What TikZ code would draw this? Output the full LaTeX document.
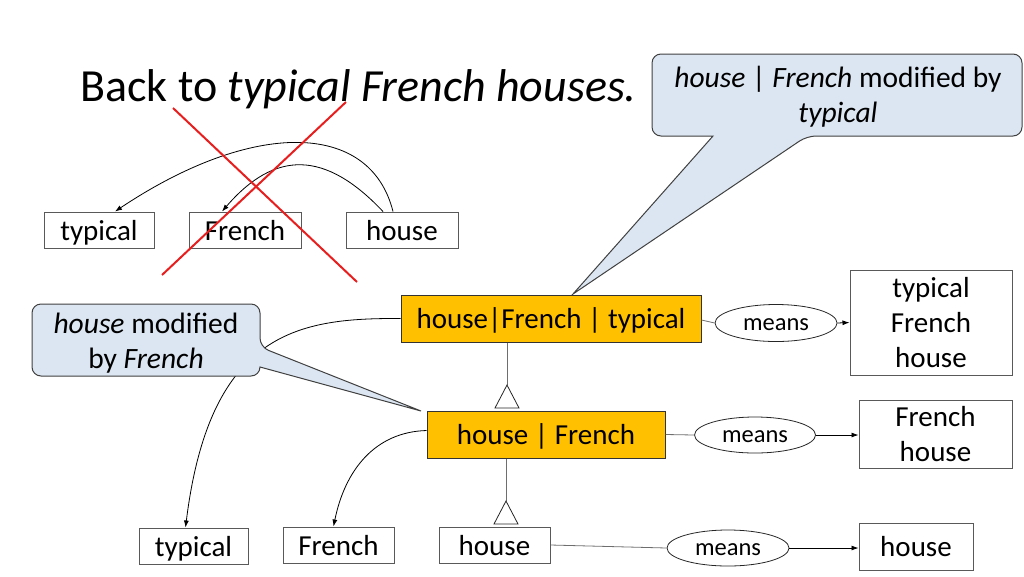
\documentclass[tikz,border=0pt]{standalone}
\usepackage{fontspec}
\setmainfont{Carlito}
\usetikzlibrary{shapes.geometric,arrows.meta,backgrounds}
\definecolor{gold}{RGB}{255,192,0}
\definecolor{boxgray}{RGB}{89,89,89}
\definecolor{linegray}{RGB}{110,110,110}
\definecolor{calloutblue}{RGB}{220,230,242}
\definecolor{calloutedge}{RGB}{64,64,64}
\definecolor{xred}{RGB}{232,30,30}
\tikzset{
  wbox/.style={draw=boxgray, line width=1pt, rectangle, minimum height=36pt, inner sep=0pt,
    font=\fontsize{29}{35}\selectfont, text height=24pt, text depth=4pt},
  ybox/.style={wbox, fill=gold, draw=black!80, minimum height=47pt},
  tbox/.style={draw=boxgray, line width=1pt, rectangle, inner sep=0pt, align=center,
    font=\fontsize{29}{35}\selectfont},
  meanell/.style={ellipse, draw=black!85, line width=0.8pt, inner sep=0pt,
    font=\fontsize{24.5}{28}\selectfont, text height=19pt, text depth=3.6pt},
  conn/.style={draw=linegray, line width=0.8pt},
  arr/.style={draw=black, line width=0.8pt, -{Latex[length=7pt,width=5pt]}},
  callout/.style={fill=calloutblue, draw=calloutedge, line width=1pt},
  ctext/.style={font=\fontsize{29.5}{35}\selectfont, align=center, inner sep=0pt},
  xline/.style={draw=xred, line width=2pt},
  tri/.style={draw=black!85, fill=white, line width=0.8pt}
}
\begin{document}
\begin{tikzpicture}[x=1pt,y=-1pt]
\useasboundingbox (0,0) rectangle (1024,576);

% title
\node[anchor=base west, font=\fontsize{46}{55}\selectfont, inner sep=0pt] (title) at (80,101)
  {Back to \textit{typical French houses.}};

% top word boxes
\node[wbox, minimum width=110pt] (t1) at (99,230) {typical};
\node[wbox, minimum width=112pt] (f1) at (245,230) {French};
\node[wbox, minimum width=112pt] (h1) at (402,230) {house};

% yellow boxes
\node[ybox, minimum width=300pt] (y1) at (551,318.5) {house|French | typical};
\node[ybox, minimum width=238pt] (y2) at (546,434.5) {house | French};

% bottom boxes
\node[wbox, minimum width=109pt] (bt) at (193.5,546) {typical};
\node[wbox, minimum width=111pt] (bf) at (338.5,545) {French};
\node[wbox, minimum width=111pt] (bh) at (494.5,545) {house};
\node[wbox, minimum width=114pt, minimum height=47pt] (rh) at (916,546.5) {house};

% right meaning boxes
\node[tbox, minimum width=162pt, minimum height=105pt] (rtfh) at (931,322.5) {typical\\French\\house};
\node[tbox, minimum width=153pt, minimum height=68pt] (rfh) at (935.5,434) {French\\house};

% means ellipses
\node[meanell, minimum width=122pt, minimum height=37pt] (m1) at (776,323) {means};
\node[meanell, minimum width=121pt, minimum height=36pt] (m2) at (755,435) {means};
\node[meanell, minimum width=122pt, minimum height=36pt] (m3) at (728,548) {means};

% curve behind callout and callouts
\begin{pgfonlayer}{background}
\draw[arr] (y1.west) .. controls (300,318) and (210,330) .. ([xshift=-8pt]bt.north);
\path[callout] (573,294) -- (713,136) [rounded corners=9pt] -- (652,136) -- (652,54)
  -- (1022,54) -- (1022,136) -- (807,136) [sharp corners] -- cycle;
\path[callout] (421,411) -- (260,367) [rounded corners=9pt] -- (260,376) -- (32,376)
  -- (32,304) -- (260,304) -- (260,347) [sharp corners] -- cycle;
\end{pgfonlayer}
\node[ctext] (c1t) at (838,97) {\textit{house} | \textit{French} modified by\\\textit{typical}};
\node[ctext] (c2t) at (146,343) {\textit{house} modified\\by \textit{French}};

% arcs at top
\draw[arr] ([xshift=-9pt]h1.north) .. controls (370,120) and (252,120) .. ([xshift=16pt]t1.north);
\draw[arr] ([xshift=-19pt]h1.north) .. controls (325,150) and (275,150) .. ([xshift=-23pt]f1.north);

% structure lines with triangles
\coordinate (a1) at (507,385);
\coordinate (a2) at (506,501);
\draw[conn] (y1.south -| a1) -- (a1);
\draw[tri] (a1) -- ++(-12,23) -- ++(24,0) -- cycle;
\draw[conn] (y2.south -| a2) -- (a2);
\draw[tri] (a2) -- ++(-12,23) -- ++(24,0) -- cycle;

% curve to French
\draw[arr] ([yshift=4pt]y2.west) .. controls (375,432) and (345,470) .. ([xshift=-5pt]bf.north);

% means connectors
\draw[conn] ([yshift=-1.5pt]y1.east) -- (m1.west);
\draw[arr] (m1.east) -- (rtfh.west);
\draw[conn] (y2.east) -- (m2.west);
\draw[arr] (m2.east) -- (m2.east -| rfh.west);
\draw[conn] (bh.east) -- (m3.west);
\draw[arr] (m3.east) -- (m3.east -| rh.west);

% red cross
\draw[xline] (173,108) -- (357,282);
\draw[xline] (346,102) -- (162,275);
\end{tikzpicture}
\end{document}
